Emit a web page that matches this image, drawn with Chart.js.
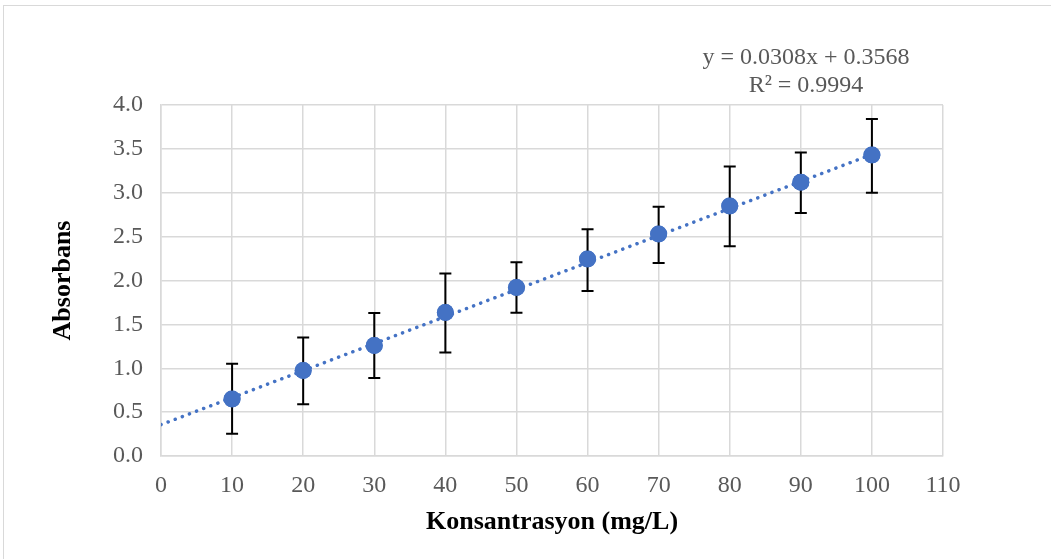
<!DOCTYPE html>
<html>
<head>
<meta charset="utf-8">
<script src="https://cdn.jsdelivr.net/npm/chart.js@4/dist/chart.umd.min.js"></script>
<style>
html,body{margin:0;padding:0;background:#fff;}
#wrap{position:relative;width:1051px;height:559px;overflow:hidden;}
#frame{position:absolute;left:3px;top:5px;width:1100px;height:600px;border:1px solid #d9d9d9;box-sizing:border-box;}
canvas{position:absolute;left:0;top:0;}
</style>
</head>
<body>
<div id="wrap"><div id="frame"></div><canvas id="c" width="1051" height="559"></canvas></div>
<script>
const concentrations = [10, 20, 30, 40, 50, 60, 70, 80, 90, 100];
const absorbance = [0.65, 0.975, 1.26, 1.635, 1.92, 2.245, 2.53, 2.85, 3.12, 3.43];
const errUpper = [1.05, 1.35, 1.63, 2.08, 2.207, 2.585, 2.84, 3.30, 3.46, 3.84];
const errLower = [0.254, 0.59, 0.89, 1.18, 1.633, 1.88, 2.20, 2.39, 2.77, 3.00];
const slope = 0.0308;
const intercept = 0.3568;
const trendX = [0, 100];
const equationText = ['y = 0.0308x + 0.3568', 'R² = 0.9994'];

const points = concentrations.map((x, i) => ({x: x, y: absorbance[i]}));
const trend = trendX.map(x => ({x: x, y: slope * x + intercept}));
const SERIF = '"Liberation Serif", "Times New Roman", serif';

const errorBarPlugin = {
  id: 'errorBars',
  afterDatasetsDraw(chart) {
    const ctx = chart.ctx;
    const xs = chart.scales.x, ys = chart.scales.y;
    ctx.save();
    ctx.strokeStyle = '#000';
    ctx.lineWidth = 2;
    concentrations.forEach((x, i) => {
      const px = xs.getPixelForValue(x);
      const top = ys.getPixelForValue(errUpper[i]);
      const bot = ys.getPixelForValue(errLower[i]);
      ctx.beginPath();
      ctx.moveTo(px, top); ctx.lineTo(px, bot);
      ctx.moveTo(px - 6, top); ctx.lineTo(px + 6, top);
      ctx.moveTo(px - 6, bot); ctx.lineTo(px + 6, bot);
      ctx.stroke();
    });
    ctx.restore();
    const meta = chart.getDatasetMeta(1);
    ctx.save();
    meta.data.forEach(el => { el.draw(ctx); });
    ctx.restore();
  },
  afterDraw(chart) {
    const ctx = chart.ctx;
    ctx.save();
    ctx.fillStyle = '#595959';
    ctx.font = '24px ' + SERIF;
    ctx.textAlign = 'center';
    ctx.textBaseline = 'middle';
    ctx.fillText(equationText[0], 806, 58);
    ctx.fillText(equationText[1], 806, 86);
    ctx.restore();
  }
};

new Chart(document.getElementById('c'), {
  type: 'scatter',
  data: {
    datasets: [
      {
        type: 'line',
        data: trend,
        borderColor: '#4472c4',
        borderWidth: 3.5,
        borderDash: [0.1, 7.5],
        borderCapStyle: 'round',
        pointRadius: 0,
        fill: false,
        order: 2
      },
      {
        data: points,
        backgroundColor: '#4472c4',
        borderColor: '#4472c4',
        pointRadius: 8.5,
        pointHoverRadius: 8.5,
        borderWidth: 0,
        order: 1
      }
    ]
  },
  options: {
    responsive: false,
    animation: false,
    events: [],
    layout: {padding: {left: 0, top: 105, right: 108, bottom: 0}},
    plugins: {legend: {display: false}, tooltip: {enabled: false}},
    scales: {
      x: {
        type: 'linear', min: 0, max: 110,
        ticks: {stepSize: 10, color: '#595959', padding: 15,
          font: {family: SERIF, size: 24}},
        grid: {color: '#d9d9d9', lineWidth: 1.5, drawTicks: false},
        border: {color: '#d9d9d9', width: 1.5},
        title: {display: true, text: 'Konsantrasyon (mg/L)', color: '#000',
          font: {family: SERIF, size: 26, weight: 'bold'},
          padding: {top: 0, bottom: 21}},
        afterFit(s) { s.height = 103; }
      },
      y: {
        type: 'linear', min: 0, max: 4,
        ticks: {stepSize: 0.5, color: '#595959', padding: 18,
          callback: v => v.toFixed(1),
          font: {family: SERIF, size: 24}},
        grid: {color: '#d9d9d9', lineWidth: 1.5, drawTicks: false},
        border: {color: '#d9d9d9', width: 1.5},
        title: {display: true, text: 'Absorbans', color: '#000',
          font: {family: SERIF, size: 26, weight: 'bold'},
          padding: {top: 48, bottom: 0}},
        afterFit(s) { s.width = 161; }
      }
    }
  },
  plugins: [errorBarPlugin]
});
</script>
</body>
</html>
